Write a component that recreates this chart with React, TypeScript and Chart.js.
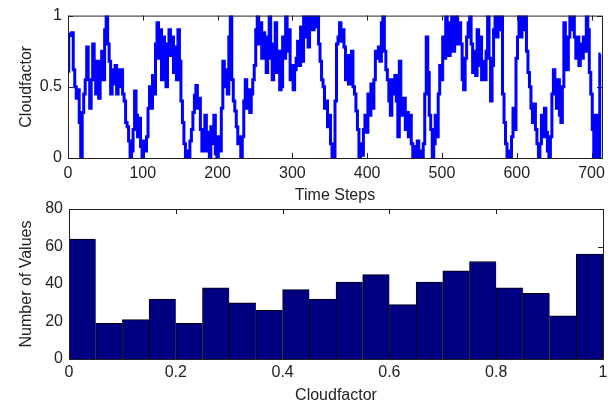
import { useEffect, useRef } from 'react';
import { Chart, registerables } from 'chart.js';

Chart.register(...registerables);

// Top panel: cloud factor per time step (sampled every 2 steps)
const timeStep = 2;
const timeMax = 714;
const cloudfactor = [
  0.61, 0.87, 0.86, 0.88, 0.62, 0.50, 0.42, 0.48, 0.25, 0.00,
  0.32, 0.45, 0.55, 0.78, 0.55, 0.35, 0.55, 0.80, 0.65, 0.45,
  0.68, 0.42, 0.60, 0.75, 0.55, 0.90, 1.00, 0.80, 0.68, 0.45,
  0.62, 0.52, 0.65, 0.45, 0.62, 0.50, 0.62, 0.45, 0.40, 0.25,
  0.22, 0.12, 0.00, 0.05, 0.20, 0.47, 0.30, 0.15, 0.28, 0.08,
  0.00, 0.12, 0.05, 0.15, 0.35, 0.50, 0.35, 0.58, 0.45, 0.80,
  0.95, 0.70, 0.90, 0.55, 0.85, 0.62, 0.50, 0.80, 0.90,
  0.72, 0.85, 0.60, 0.78, 0.55, 0.90, 0.68, 0.40, 0.25, 0.10,
  0.00, 0.05, 0.00, 0.12, 0.20, 0.32, 0.44, 0.51, 0.35, 0.42,
  0.20, 0.05, 0.15, 0.30, 0.05, 0.18, 0.00, 0.22, 0.10, 0.30,
  0.03, 0.00, 0.15, 0.05, 0.35, 0.68, 0.50, 0.62, 0.45, 0.85,
  1.00, 0.55, 0.40, 0.33, 0.22, 0.10, 0.15, 0.00, 0.15, 0.40,
  0.55, 0.35, 0.48, 0.32, 0.45, 0.55, 0.65, 0.90, 1.00, 0.80,
  0.95, 0.70, 0.88, 0.75, 0.60, 0.85, 1.00, 0.70, 0.55, 0.80,
  0.95, 0.60, 0.75, 0.48, 0.50, 0.85, 0.70, 1.00, 0.75, 0.90,
  0.55, 0.65, 0.48, 0.62, 0.70, 0.82, 0.65, 0.92, 0.68, 1.00,
  0.85, 1.00, 0.78, 0.95, 1.00, 0.90, 1.00, 0.92, 1.00, 0.80,
  0.68, 0.55, 0.50, 0.35, 0.40, 0.22, 0.30, 0.10, 0.00,
  0.00, 0.40, 0.80, 0.85, 0.95, 0.82, 0.90, 0.78, 0.55, 0.72,
  0.52, 0.65, 0.75, 0.50, 0.45, 0.33, 0.20, 0.00, 0.10, 0.02,
  0.20, 0.30, 0.18, 0.45, 0.30, 0.52, 0.35, 0.55, 0.75, 0.70,
  0.78, 0.68, 0.95, 1.00, 0.75, 0.62, 0.55, 0.40, 0.30, 0.55,
  0.45, 0.58, 0.40, 0.15, 0.68, 0.40, 0.30, 0.42, 0.20, 0.32,
  0.15, 0.30, 0.10, 0.00, 0.08, 0.00, 0.12, 0.00, 0.05, 0.00,
  0.10, 0.45, 0.85, 0.60, 0.30, 0.20, 0.00, 0.10, 0.30, 0.15,
  0.45, 0.65, 0.55, 0.85, 0.70, 1.00, 0.80, 0.72, 0.95, 1.00,
  0.75, 0.90, 1.00, 0.80, 0.95, 0.80, 0.55, 0.48, 0.70, 0.85,
  0.95, 1.00, 0.80, 0.60, 0.75, 0.58, 0.90, 0.65, 0.85, 0.55,
  0.68, 0.55, 0.75, 1.00, 0.70, 0.40, 0.65, 0.90, 1.00, 0.85,
  1.00, 0.90, 1.00, 0.45, 0.25, 0.10, 0.00, 0.05, 0.00, 0.15,
  0.35, 0.20, 0.70, 0.85, 1.00, 0.85, 1.00, 0.90, 1.00,
  0.75, 0.60, 0.50, 0.35, 0.25, 0.38, 0.20, 0.10, 0.00, 0.10,
  0.30, 0.15, 0.35, 0.18, 0.05, 0.00, 0.15, 0.45, 0.62, 0.50,
  0.35, 0.55, 0.30, 0.25, 0.50, 0.95, 0.70, 0.62, 0.85, 1.00,
  0.90, 1.00, 0.85, 0.70, 0.85, 0.65, 0.80, 0.70, 0.85, 0.75,
  1.00, 0.90, 0.60, 0.45, 0.20, 0.00, 0.30, 0.10, 0.00, 0.73,
];
const timeTicks = [0, 100, 200, 300, 400, 500, 600, 700];
const cloudTicks = [0, 0.5, 1];

// Bottom panel: histogram of cloud factor
const binCenters = [
  0.025, 0.075, 0.125, 0.175, 0.225, 0.275, 0.325, 0.375, 0.425, 0.475,
  0.525, 0.575, 0.625, 0.675, 0.725, 0.775, 0.825, 0.875, 0.925, 0.975,
];
const binCounts = [64, 19, 21, 32, 19, 38, 30, 26, 37, 32, 41, 45, 29, 41, 47, 52, 38, 35, 23, 56];
const histXTicks = [0, 0.2, 0.4, 0.6, 0.8, 1];
const histYTicks = [0, 20, 40, 60, 80];

const FONT = { family: "'Liberation Sans', Arial, Helvetica, sans-serif", size: 16 };
const TEXT = '#222222';

const matlabFrame = {
  id: 'matlabFrame',
  beforeDatasetsDraw(chart: any) {
    const { ctx, chartArea: a, scales } = chart;
    const len = 5;
    ctx.save();
    ctx.strokeStyle = '#222';
    ctx.lineWidth = 1;
    ctx.beginPath();
    for (const t of scales.x.ticks) {
      const px = Math.round(scales.x.getPixelForValue(t.value)) + 0.5;
      ctx.moveTo(px, a.bottom);
      ctx.lineTo(px, a.bottom - len);
      ctx.moveTo(px, a.top);
      ctx.lineTo(px, a.top + len);
    }
    for (const t of scales.y.ticks) {
      const py = Math.round(scales.y.getPixelForValue(t.value)) + 0.5;
      ctx.moveTo(a.left, py);
      ctx.lineTo(a.left + len, py);
      ctx.moveTo(a.right, py);
      ctx.lineTo(a.right - len, py);
    }
    ctx.stroke();
    ctx.restore();
  },
  afterDatasetsDraw(chart: any) {
    const { ctx, chartArea: a } = chart;
    ctx.save();
    ctx.strokeStyle = '#222';
    ctx.lineWidth = 1;
    ctx.strokeRect(a.left + 0.5, a.top + 0.5, a.right - a.left, a.bottom - a.top);
    ctx.restore();
  },
};

function axisTicks(values: number[]) {
  return (s: any) => {
    s.ticks = values.map((v) => ({ value: v }));
  };
}

const plainLabel = (v: any) => String(v);

export default function App() {
  const topRef = useRef<HTMLCanvasElement>(null);
  const botRef = useRef<HTMLCanvasElement>(null);

  useEffect(() => {
    const top = new Chart(topRef.current!, {
      type: 'line',
      data: {
        datasets: [
          {
            data: cloudfactor.map((v, i) => ({ x: i * timeStep, y: v })),
            borderColor: '#0000ff',
            borderWidth: 3,
            pointRadius: 0,
            stepped: 'middle',
            fill: false,
          },
        ],
      },
      options: {
        responsive: false,
        animation: false,
        devicePixelRatio: 1,
        layout: { padding: { left: 0, top: 11, right: 13, bottom: 200 } },
        plugins: { legend: { display: false }, tooltip: { enabled: false } },
        scales: {
          x: {
            type: 'linear',
            min: 0,
            max: timeMax,
            afterBuildTicks: axisTicks(timeTicks),
            afterFit: (s: any) => { s.height = 48; },
            grid: { display: false, drawTicks: false },
            border: { display: false },
            ticks: { autoSkip: false, maxRotation: 0, padding: 6, color: TEXT, font: FONT, callback: plainLabel },
            title: { display: true, text: 'Time Steps', color: TEXT, font: FONT, padding: { top: 0, bottom: 1 } },
          },
          y: {
            type: 'linear',
            min: 0,
            max: 1,
            afterBuildTicks: axisTicks(cloudTicks),
            afterFit: (s: any) => { s.width = 68; },
            grid: { display: false, drawTicks: false },
            border: { display: false },
            ticks: { padding: 6, color: TEXT, font: FONT, callback: plainLabel },
            title: { display: true, text: 'Cloudfactor', color: TEXT, font: FONT, padding: { top: 17, bottom: 0 } },
          },
        },
      },
      plugins: [matlabFrame],
    });

    const bot = new Chart(botRef.current!, {
      type: 'bar',
      data: {
        datasets: [
          {
            data: binCenters.map((c, i) => ({ x: c, y: binCounts[i] })),
            backgroundColor: '#000080',
            borderColor: '#000000',
            borderWidth: { top: 1, left: 1, right: 0, bottom: 0 },
            borderSkipped: false,
            barPercentage: 1,
            categoryPercentage: 1,
          },
        ],
      },
      options: {
        responsive: false,
        animation: false,
        devicePixelRatio: 1,
        layout: { padding: { left: 0, top: 209, right: 12, bottom: 0 } },
        plugins: { legend: { display: false }, tooltip: { enabled: false } },
        scales: {
          x: {
            type: 'linear',
            min: 0,
            max: 1,
            offset: false,
            afterBuildTicks: axisTicks(histXTicks),
            afterFit: (s: any) => { s.height = 47; },
            grid: { display: false, drawTicks: false },
            border: { display: false },
            ticks: { autoSkip: false, maxRotation: 0, padding: 4, color: TEXT, font: FONT, callback: plainLabel },
            title: { display: true, text: 'Cloudfactor', color: TEXT, font: FONT, padding: { top: 0, bottom: 1 } },
          },
          y: {
            type: 'linear',
            min: 0,
            max: 80,
            afterBuildTicks: axisTicks(histYTicks),
            afterFit: (s: any) => { s.width = 69; },
            grid: { display: false, drawTicks: false },
            border: { display: false },
            ticks: { padding: 6, color: TEXT, font: FONT, callback: plainLabel },
            title: { display: true, text: 'Number of Values', color: TEXT, font: FONT, padding: { top: 17, bottom: 0 } },
          },
        },
      },
      plugins: [matlabFrame],
    });

    return () => {
      top.destroy();
      bot.destroy();
    };
  }, []);

  const canvasStyle: any = { position: 'absolute', left: 0, top: 0, width: 615, height: 406 };
  return (
    <div style={{ position: 'fixed', left: 0, top: 0, width: 615, height: 406, background: '#ffffff', overflow: 'hidden' }}>
      <canvas ref={topRef} width={615} height={406} style={canvasStyle} />
      <canvas ref={botRef} width={615} height={406} style={canvasStyle} />
    </div>
  );
}
